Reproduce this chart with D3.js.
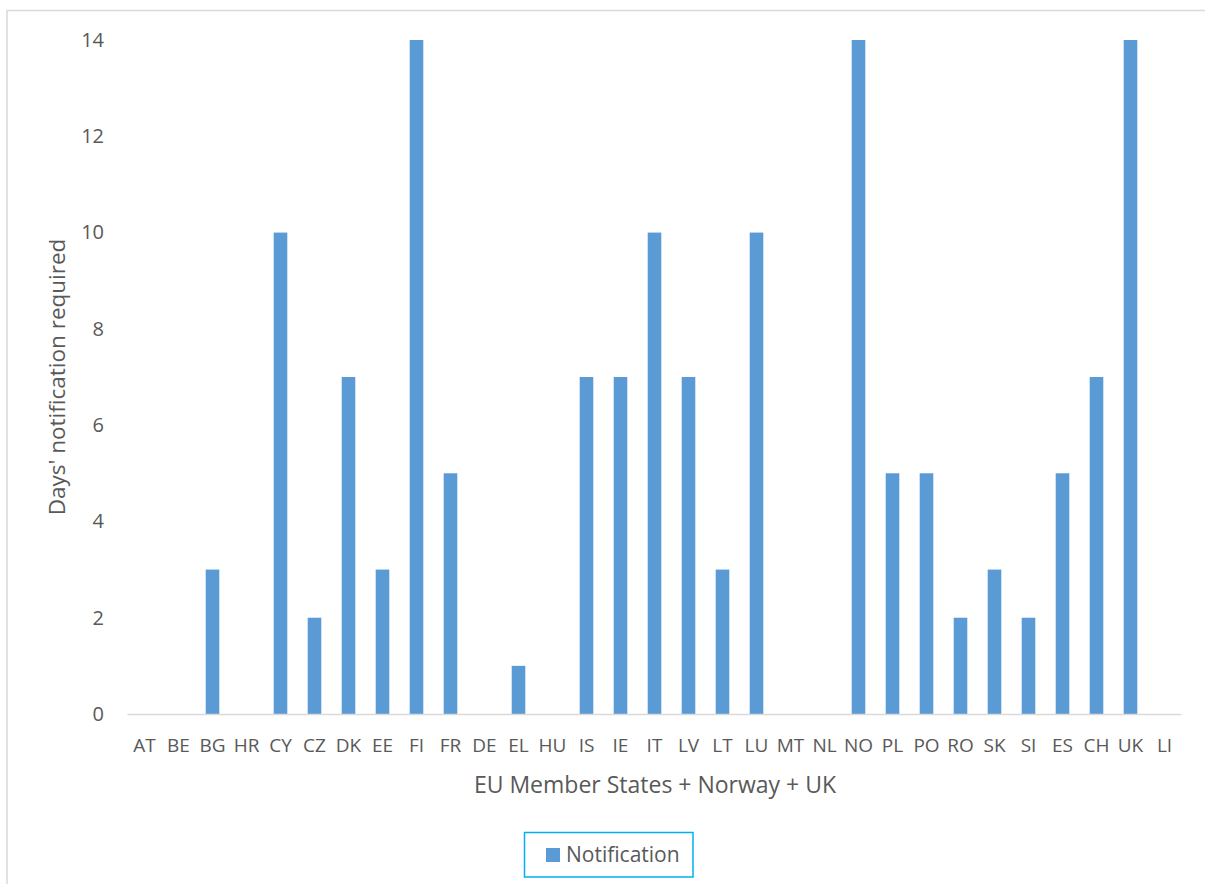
<!DOCTYPE html>
<html><head><meta charset="utf-8">
<script src="https://cdn.jsdelivr.net/npm/d3@7"></script>
<style>body{margin:0;background:#fff;}</style>
</head><body>
<svg id="c" width="1205" height="884"></svg>
<script>
const categories = ["AT","BE","BG","HR","CY","CZ","DK","EE","FI","FR","DE","EL","HU","IS","IE","IT","LV","LT","LU","MT","NL","NO","PL","PO","RO","SK","SI","ES","CH","UK","LI"];
const notification = [0,0,3,0,10,2,7,3,14,5,0,1,0,7,7,10,7,3,10,0,0,14,5,5,2,3,2,5,7,14,0];
const yTicks = [0,2,4,6,8,10,12,14];
const seriesName = "Notification";
const yTitle = "Days' notification required";
const xTitle = "EU Member States + Norway + UK";

const svg = d3.select("#c");
const font = "'Open Sans', sans-serif";
const txt = "#595959";
// outer border
svg.append("rect").attr("x",7).attr("y",10.5).attr("width",1210).attr("height",900)
  .attr("fill","none").attr("stroke","#d9d9d9").attr("stroke-width",1.5);

const x = d3.scaleBand().domain(categories).range([127.5,1181.5]).paddingInner(0.6).paddingOuter(0.3);
const y = d3.scaleLinear().domain([0,14]).range([714,40]);

svg.append("g").selectAll("rect").data(categories).join("rect")
  .attr("x",d=>x(d)).attr("width",x.bandwidth())
  .attr("y",(d,i)=>y(notification[i])).attr("height",(d,i)=>y(0)-y(notification[i]))
  .attr("fill","#5b9bd5");

// x axis line
svg.append("line").attr("x1",127.5).attr("x2",1181.5).attr("y1",714.5).attr("y2",714.5)
  .attr("stroke","#d9d9d9").attr("stroke-width",1.5);

// y axis
const ya = svg.append("g").attr("transform","translate(104,0)")
  .call(d3.axisLeft(y).tickValues(yTicks).tickSize(0).tickPadding(0));
ya.select(".domain").remove();
ya.selectAll("text").attr("font-family",font).attr("font-size",20).attr("fill",txt);

// x axis labels
const xa = svg.append("g").attr("transform","translate(0,752)")
  .call(d3.axisBottom(x).tickSize(0).tickPadding(0));
xa.select(".domain").remove();
xa.selectAll("text").attr("font-family",font).attr("font-size",19).attr("fill",txt).attr("dy",0);

svg.append("text").attr("x",655).attr("y",793).attr("text-anchor","middle")
  .attr("font-family",font).attr("font-size",23).attr("fill",txt).text(xTitle);
svg.append("text").attr("transform","translate(65,377) rotate(-90)").attr("text-anchor","middle")
  .attr("font-family",font).attr("font-size",22.5).attr("fill",txt).text(yTitle);

// legend
const lg = svg.append("g");
lg.append("rect").attr("x",524.5).attr("y",832.5).attr("width",168.5).attr("height",44.5)
  .attr("fill","#fff").attr("stroke","#00b0f0").attr("stroke-width",1.5);
lg.append("rect").attr("x",546).attr("y",848).attr("width",14).attr("height",14).attr("fill","#5b9bd5");
lg.append("text").attr("x",566).attr("y",862).attr("font-family",font).attr("font-size",21)
  .attr("fill",txt).text(seriesName);
</script>
</body></html>
